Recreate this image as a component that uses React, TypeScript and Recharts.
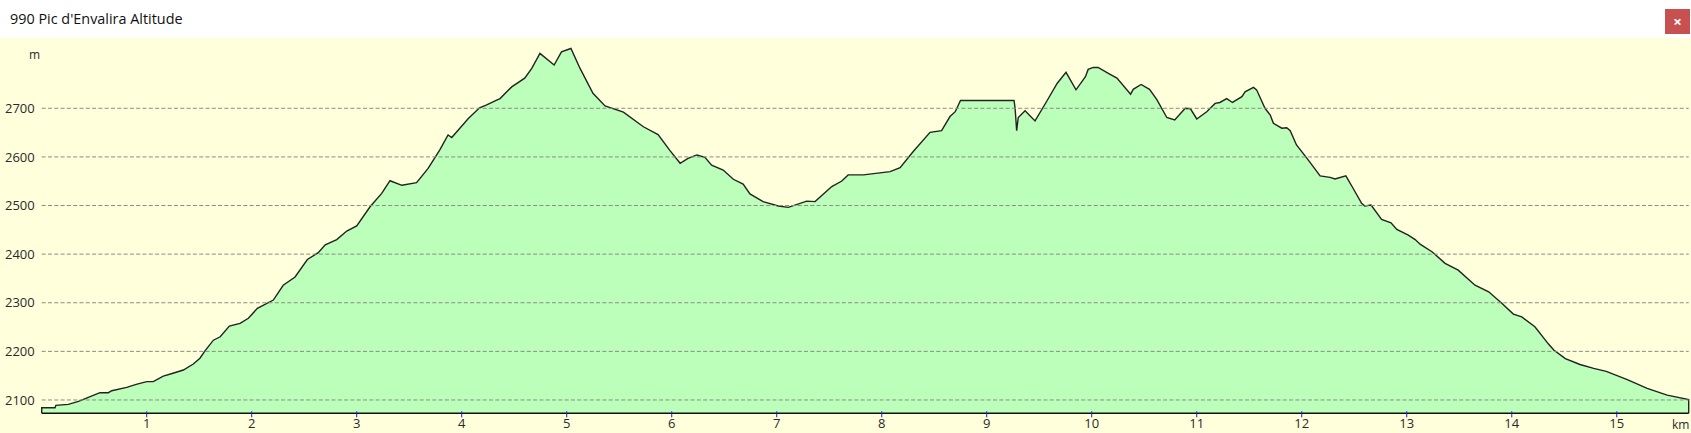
import React from "react";
import { AreaChart, Area, XAxis, YAxis, ReferenceLine } from "recharts";

const title = "990 Pic d'Envalira Altitude";
const kmTicks = [1, 2, 3, 4, 5, 6, 7, 8, 9, 10, 11, 12, 13, 14, 15];
const altTicks = [2100, 2200, 2300, 2400, 2500, 2600, 2700];
const baseAlt = 2072.6;
const topAlt = 2844.6;
const endKm = 15.685;

const kms = [
  0, 0, 0.127, 0.135, 0.253, 0.35, 0.444, 0.555, 0.635, 0.667, 0.81, 0.9, 1.0, 1.063, 1.158, 1.25, 1.349, 1.444, 1.507, 1.555, 1.635, 1.7, 1.787, 1.889, 1.968, 2.054, 2.206, 2.3, 2.413, 2.53, 2.634, 2.7, 2.81, 2.905, 3.0, 3.127, 3.238, 3.317, 3.43, 3.57, 3.68, 3.79, 3.87, 3.905, 4.063, 4.17, 4.238, 4.333, 4.365, 4.476, 4.6, 4.667, 4.745, 4.88, 4.95, 5.04, 5.127, 5.25, 5.365, 5.54, 5.73, 5.87, 5.98, 6.08, 6.155, 6.24, 6.316, 6.38, 6.49, 6.587, 6.68, 6.745, 6.87, 7.015, 7.11, 7.285, 7.365, 7.524, 7.62, 7.68, 7.825, 8.08, 8.175, 8.3, 8.46, 8.57, 8.65, 8.7, 8.75, 9.26, 9.27, 9.285, 9.3, 9.365, 9.46, 9.57, 9.67, 9.755, 9.85, 9.94, 9.966, 10.015, 10.06, 10.175, 10.24, 10.37, 10.395, 10.47, 10.55, 10.62, 10.715, 10.79, 10.89, 10.94, 11.0, 11.095, 11.175, 11.22, 11.285, 11.34, 11.43, 11.46, 11.54, 11.57, 11.65, 11.7, 11.73, 11.81, 11.857, 11.89, 11.95, 12.05, 12.175, 12.27, 12.317, 12.42, 12.49, 12.57, 12.6, 12.66, 12.76, 12.85, 12.905, 13.015, 13.08, 13.13, 13.24, 13.365, 13.49, 13.65, 13.78, 13.905, 14.015, 14.095, 14.22, 14.35, 14.4, 14.51, 14.65, 14.78, 14.9, 15.1, 15.29, 15.48, 15.685, 15.685,
];
const alts = [
  2072.6, 2084, 2084, 2089, 2091, 2097, 2105.5, 2115, 2115, 2119, 2126, 2132, 2137.7, 2137.7, 2149, 2155, 2161.7, 2174, 2186, 2201, 2223, 2230, 2252, 2257.6, 2268, 2288.5, 2305.6, 2336, 2353, 2389, 2403, 2419, 2430, 2447.5, 2458, 2497.5, 2525, 2551, 2541.6, 2547, 2576.5, 2614, 2645, 2640, 2679, 2701, 2707, 2717, 2720, 2744, 2762, 2782, 2813, 2789, 2816, 2823, 2782, 2731, 2705, 2692, 2662, 2646, 2614, 2587, 2597, 2604, 2599, 2583, 2573, 2554, 2544, 2524, 2508, 2499, 2496.3, 2509, 2508, 2539, 2550.4, 2563, 2563, 2569.6, 2578, 2611, 2650.6, 2654, 2683, 2693, 2716, 2716, 2700, 2654, 2681, 2695, 2674, 2714, 2751, 2774, 2738, 2765, 2780, 2784, 2784, 2770, 2762, 2729, 2739, 2749, 2739, 2718, 2681, 2676, 2700, 2699, 2678, 2693, 2710, 2712, 2720, 2712, 2724, 2734, 2743, 2738, 2700, 2686, 2669, 2659, 2660, 2654, 2624.5, 2597, 2561, 2558, 2554.5, 2561, 2535, 2504.5, 2499, 2501, 2471.6, 2464.6, 2451, 2439, 2430, 2420, 2405, 2381, 2367, 2336, 2322.6, 2299, 2276.7, 2271, 2250.6, 2215, 2202.7, 2185, 2173, 2165, 2159, 2142, 2124, 2110, 2101, 2072.6,
];
const rows = kms.map((km, i) => ({ km, alt: alts[i] }));

const FONT = "'Open Sans', sans-serif";
const TEXT = "#2a2a2a";

function KmTick(props: any) {
  const { x, y, payload } = props;
  return (
    <g>
      <line x1={x} x2={x} y1={y - 2} y2={y + 4} stroke="#1a1aee" strokeWidth={1} />
      <text x={x} y={y + 15} textAnchor="middle" fontSize={13} fontFamily={FONT} fill={TEXT}>
        {payload.value}
      </text>
    </g>
  );
}

export default function App() {
  return (
    <div style={{ position: "absolute", left: 0, top: 0, width: 1691, height: 433, background: "#fff", overflow: "hidden" }}>
      <div style={{ position: "absolute", left: 0, top: 38, width: 1691, height: 395, background: "#ffffdc" }} />
      <div style={{ position: "absolute", left: 10, top: 9, fontFamily: FONT, fontSize: 14.4, color: "#111", whiteSpace: "nowrap" }}>{title}</div>
      <div style={{ position: "absolute", left: 1665, top: 9, width: 25, height: 25, background: "#c75050", color: "#fff", fontFamily: FONT, fontSize: 15, fontWeight: 700, lineHeight: "25px", textAlign: "center" }}>×</div>
      <div style={{ position: "absolute", left: 29, top: 46, fontFamily: FONT, fontSize: 12, color: TEXT }}>m</div>
      <div style={{ position: "absolute", left: 1672, top: 416, fontFamily: FONT, fontSize: 12, color: TEXT }}>km</div>
      <div style={{ position: "absolute", left: 0, top: 0 }}>
        <AreaChart width={1691} height={433} data={rows} margin={{ top: 38, right: 2.3, bottom: 0, left: 0 }}>
          <XAxis
            dataKey="km"
            type="number"
            domain={[0, endKm]}
            ticks={kmTicks}
            allowDuplicatedCategory
            height={19.7}
            stroke="#111"
            axisLine={{ stroke: "#111", strokeWidth: 1.5 }}
            tickLine={false}
            tickSize={0}
            tickMargin={0}
            tick={<KmTick />}
            interval={0}
          />
          <YAxis
            type="number"
            domain={[baseAlt, topAlt]}
            ticks={altTicks}
            width={41.7}
            axisLine={false}
            tickLine={false}
            tickMargin={1}
            interval={0}
            tick={{ fontSize: 13, fontFamily: FONT, fill: TEXT }}
          />
          <Area
            dataKey="alt"
            type="linear"
            stroke="#222"
            strokeWidth={1.4}
            fill="#bbffbb"
            fillOpacity={1}
            isAnimationActive={false}
            dot={false}
            activeDot={false}
          />
          {altTicks.map((t) => (
            <ReferenceLine key={t} y={t} stroke="#8c8c84" strokeWidth={1} strokeDasharray="4 2.3" />
          ))}
        </AreaChart>
      </div>
    </div>
  );
}
